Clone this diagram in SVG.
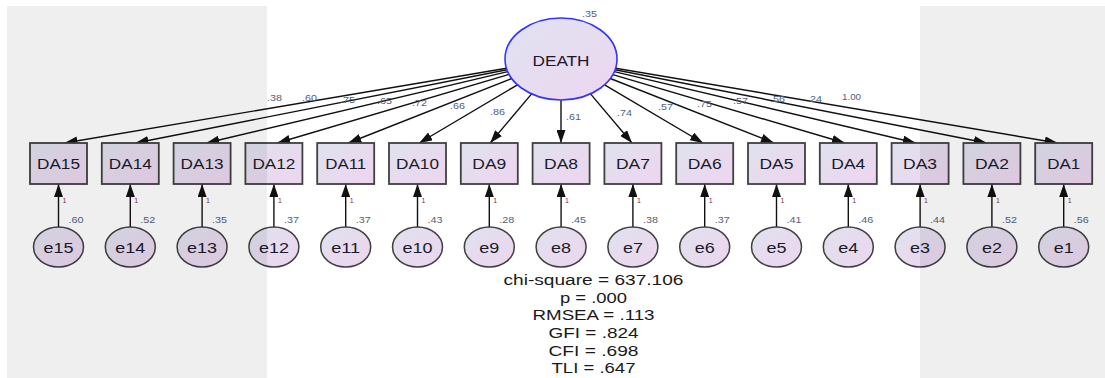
<svg xmlns="http://www.w3.org/2000/svg" width="1105" height="378" viewBox="0 0 1105 378">
  <style>
    .obs { stroke: #404040; stroke-width: 1.8; fill: url(#gBox); }
    .err { stroke: #404040; stroke-width: 1.5; fill: url(#gBox); }
    .lat { stroke: #3434ff; stroke-width: 1.6; fill: url(#gLat); }
    .name { font-family: "Liberation Sans", Arial, sans-serif; font-size: 15px; fill: #1a1a2a; text-anchor: middle; }
    .path { stroke: #111; stroke-width: 1.4; fill: none; marker-end: url(#head); }
    .est { font-family: "Liberation Sans", Arial, sans-serif; font-size: 8.5px; fill: #56607a; }
    .one { font-family: "Liberation Sans", Arial, sans-serif; font-size: 7px; fill: #7a3050; }
    .fit { font-family: "Liberation Sans", Arial, sans-serif; font-size: 14px; fill: #1a1a1a; text-anchor: middle; }
    .shade { fill: #000; fill-opacity: 0.063; }
  </style>
  <defs>
    <linearGradient id="gBox" x1="0" y1="0" x2="1" y2="1">
      <stop offset="0" stop-color="#e0e2ee"/>
      <stop offset="1" stop-color="#edd5ef"/>
    </linearGradient>
    <linearGradient id="gLat" x1="0" y1="0" x2="1" y2="1">
      <stop offset="0" stop-color="#dfe3f0"/>
      <stop offset="1" stop-color="#eed6f0"/>
    </linearGradient>
    <marker id="head" viewBox="0 0 13 9" refX="13" refY="4.5" markerWidth="13" markerHeight="9" markerUnits="userSpaceOnUse" orient="auto">
      <path d="M0,0 L13,4.5 L0,9 z" fill="#111"/>
    </marker>
  </defs>

  <rect width="1105" height="378" fill="#fff"/>

  <!-- paths: factor loadings and error terms -->
  <g id="connectors">
    <line class="path" x1="506.4" y1="68.2" x2="64.5" y2="143"/>
    <line class="path" x1="506.9" y1="69.7" x2="135.5" y2="143"/>
    <line class="path" x1="507.7" y1="71.6" x2="206.4" y2="143"/>
    <line class="path" x1="509.1" y1="74.4" x2="277.3" y2="143"/>
    <line class="path" x1="511.7" y1="78.5" x2="348.3" y2="143"/>
    <line class="path" x1="517.5" y1="84.8" x2="419.2" y2="143"/>
    <line class="path" x1="531.6" y1="93.9" x2="490.2" y2="143"/>
    <line class="path" x1="561" y1="100" x2="561" y2="143"/>
    <line class="path" x1="590.5" y1="93.9" x2="632" y2="143"/>
    <line class="path" x1="604.6" y1="84.8" x2="703" y2="143"/>
    <line class="path" x1="610.3" y1="78.5" x2="773.9" y2="143"/>
    <line class="path" x1="612" y1="74.4" x2="844.9" y2="143"/>
    <line class="path" x1="614.3" y1="71.6" x2="915.8" y2="143"/>
    <line class="path" x1="615.1" y1="69.7" x2="986.7" y2="143"/>
    <line class="path" x1="615.6" y1="68.2" x2="1057.7" y2="143"/>

    <line class="path" x1="58.5" y1="227" x2="58.5" y2="184"/>
    <line class="path" x1="130.3" y1="227" x2="130.3" y2="184"/>
    <line class="path" x1="202.1" y1="227" x2="202.1" y2="184"/>
    <line class="path" x1="273.9" y1="227" x2="273.9" y2="184"/>
    <line class="path" x1="345.7" y1="227" x2="345.7" y2="184"/>
    <line class="path" x1="417.5" y1="227" x2="417.5" y2="184"/>
    <line class="path" x1="489.3" y1="227" x2="489.3" y2="184"/>
    <line class="path" x1="561.1" y1="227" x2="561.1" y2="184"/>
    <line class="path" x1="632.9" y1="227" x2="632.9" y2="184"/>
    <line class="path" x1="704.7" y1="227" x2="704.7" y2="184"/>
    <line class="path" x1="776.5" y1="227" x2="776.5" y2="184"/>
    <line class="path" x1="848.3" y1="227" x2="848.3" y2="184"/>
    <line class="path" x1="920.1" y1="227" x2="920.1" y2="184"/>
    <line class="path" x1="991.9" y1="227" x2="991.9" y2="184"/>
    <line class="path" x1="1063.7" y1="227" x2="1063.7" y2="184"/>

    <!-- standardized loadings -->
    <g class="est">
      <text x="267" y="100.5" textLength="15" lengthAdjust="spacingAndGlyphs">.38</text>
      <text x="302" y="101" textLength="15" lengthAdjust="spacingAndGlyphs">.60</text>
      <text x="340" y="103" textLength="15" lengthAdjust="spacingAndGlyphs">.75</text>
      <text x="377" y="104" textLength="15" lengthAdjust="spacingAndGlyphs">.65</text>
      <text x="412" y="106" textLength="15" lengthAdjust="spacingAndGlyphs">.72</text>
      <text x="450" y="109" textLength="15" lengthAdjust="spacingAndGlyphs">.66</text>
      <text x="490" y="115" textLength="15" lengthAdjust="spacingAndGlyphs">.86</text>
      <text x="566" y="120" textLength="15" lengthAdjust="spacingAndGlyphs">.61</text>
      <text x="617" y="115.5" textLength="15" lengthAdjust="spacingAndGlyphs">.74</text>
      <text x="658" y="109.5" textLength="15" lengthAdjust="spacingAndGlyphs">.57</text>
      <text x="697" y="107" textLength="15" lengthAdjust="spacingAndGlyphs">.75</text>
      <text x="733" y="103.5" textLength="15" lengthAdjust="spacingAndGlyphs">.57</text>
      <text x="770" y="102" textLength="15" lengthAdjust="spacingAndGlyphs">.56</text>
      <text x="807" y="102" textLength="15" lengthAdjust="spacingAndGlyphs">.24</text>
      <text x="842" y="100" textLength="19" lengthAdjust="spacingAndGlyphs">1.00</text>
    </g>

    <!-- fixed error paths -->
    <g class="one">
      <text x="62.5" y="203">1</text>
      <text x="134.3" y="203">1</text>
      <text x="206.1" y="203">1</text>
      <text x="277.9" y="203">1</text>
      <text x="349.7" y="203">1</text>
      <text x="421.5" y="203">1</text>
      <text x="493.3" y="203">1</text>
      <text x="565.1" y="203">1</text>
      <text x="636.9" y="203">1</text>
      <text x="708.7" y="203">1</text>
      <text x="780.5" y="203">1</text>
      <text x="852.3" y="203">1</text>
      <text x="924.1" y="203">1</text>
      <text x="995.9" y="203">1</text>
      <text x="1067.7" y="203">1</text>
    </g>
  </g>

  <!-- latent factor -->
  <g id="DEATH">
    <ellipse class="lat" cx="561" cy="59" rx="56" ry="41"/>
    <text class="name" x="561" y="66" textLength="57" lengthAdjust="spacingAndGlyphs">DEATH</text>
    <text class="est" x="582" y="16.5" textLength="15" lengthAdjust="spacingAndGlyphs">.35</text>
  </g>

  <!-- observed indicators -->
  <g id="DA15"><rect class="obs" x="30" y="143" width="57" height="41"/><text class="name" x="58.5" y="169" textLength="43" lengthAdjust="spacingAndGlyphs">DA15</text></g>
  <g id="DA14"><rect class="obs" x="101.8" y="143" width="57" height="41"/><text class="name" x="130.3" y="169" textLength="43" lengthAdjust="spacingAndGlyphs">DA14</text></g>
  <g id="DA13"><rect class="obs" x="173.6" y="143" width="57" height="41"/><text class="name" x="202.1" y="169" textLength="43" lengthAdjust="spacingAndGlyphs">DA13</text></g>
  <g id="DA12"><rect class="obs" x="245.4" y="143" width="57" height="41"/><text class="name" x="273.9" y="169" textLength="43" lengthAdjust="spacingAndGlyphs">DA12</text></g>
  <g id="DA11"><rect class="obs" x="317.2" y="143" width="57" height="41"/><text class="name" x="345.7" y="169" textLength="41" lengthAdjust="spacingAndGlyphs">DA11</text></g>
  <g id="DA10"><rect class="obs" x="389" y="143" width="57" height="41"/><text class="name" x="417.5" y="169" textLength="43" lengthAdjust="spacingAndGlyphs">DA10</text></g>
  <g id="DA9"><rect class="obs" x="460.8" y="143" width="57" height="41"/><text class="name" x="489.3" y="169" textLength="34" lengthAdjust="spacingAndGlyphs">DA9</text></g>
  <g id="DA8"><rect class="obs" x="532.6" y="143" width="57" height="41"/><text class="name" x="561.1" y="169" textLength="34" lengthAdjust="spacingAndGlyphs">DA8</text></g>
  <g id="DA7"><rect class="obs" x="604.4" y="143" width="57" height="41"/><text class="name" x="632.9" y="169" textLength="34" lengthAdjust="spacingAndGlyphs">DA7</text></g>
  <g id="DA6"><rect class="obs" x="676.2" y="143" width="57" height="41"/><text class="name" x="704.7" y="169" textLength="34" lengthAdjust="spacingAndGlyphs">DA6</text></g>
  <g id="DA5"><rect class="obs" x="748" y="143" width="57" height="41"/><text class="name" x="776.5" y="169" textLength="34" lengthAdjust="spacingAndGlyphs">DA5</text></g>
  <g id="DA4"><rect class="obs" x="819.8" y="143" width="57" height="41"/><text class="name" x="848.3" y="169" textLength="34" lengthAdjust="spacingAndGlyphs">DA4</text></g>
  <g id="DA3"><rect class="obs" x="891.6" y="143" width="57" height="41"/><text class="name" x="920.1" y="169" textLength="34" lengthAdjust="spacingAndGlyphs">DA3</text></g>
  <g id="DA2"><rect class="obs" x="963.4" y="143" width="57" height="41"/><text class="name" x="991.9" y="169" textLength="34" lengthAdjust="spacingAndGlyphs">DA2</text></g>
  <g id="DA1"><rect class="obs" x="1035.2" y="143" width="57" height="41"/><text class="name" x="1063.7" y="169" textLength="33" lengthAdjust="spacingAndGlyphs">DA1</text></g>

  <!-- error terms with variances -->
  <g id="e15"><ellipse class="err" cx="58.5" cy="247" rx="25" ry="20"/><text class="name" x="58.5" y="253" textLength="30" lengthAdjust="spacingAndGlyphs">e15</text><text class="est" x="68.5" y="223" textLength="15" lengthAdjust="spacingAndGlyphs">.60</text></g>
  <g id="e14"><ellipse class="err" cx="130.3" cy="247" rx="25" ry="20"/><text class="name" x="130.3" y="253" textLength="30" lengthAdjust="spacingAndGlyphs">e14</text><text class="est" x="140.3" y="223" textLength="15" lengthAdjust="spacingAndGlyphs">.52</text></g>
  <g id="e13"><ellipse class="err" cx="202.1" cy="247" rx="25" ry="20"/><text class="name" x="202.1" y="253" textLength="30" lengthAdjust="spacingAndGlyphs">e13</text><text class="est" x="212.1" y="223" textLength="15" lengthAdjust="spacingAndGlyphs">.35</text></g>
  <g id="e12"><ellipse class="err" cx="273.9" cy="247" rx="25" ry="20"/><text class="name" x="273.9" y="253" textLength="30" lengthAdjust="spacingAndGlyphs">e12</text><text class="est" x="283.9" y="223" textLength="15" lengthAdjust="spacingAndGlyphs">.37</text></g>
  <g id="e11"><ellipse class="err" cx="345.7" cy="247" rx="25" ry="20"/><text class="name" x="345.7" y="253" textLength="29" lengthAdjust="spacingAndGlyphs">e11</text><text class="est" x="355.7" y="223" textLength="15" lengthAdjust="spacingAndGlyphs">.37</text></g>
  <g id="e10"><ellipse class="err" cx="417.5" cy="247" rx="25" ry="20"/><text class="name" x="417.5" y="253" textLength="30" lengthAdjust="spacingAndGlyphs">e10</text><text class="est" x="427.5" y="223" textLength="15" lengthAdjust="spacingAndGlyphs">.43</text></g>
  <g id="e9"><ellipse class="err" cx="489.3" cy="247" rx="25" ry="20"/><text class="name" x="489.3" y="253" textLength="20" lengthAdjust="spacingAndGlyphs">e9</text><text class="est" x="499.3" y="223" textLength="15" lengthAdjust="spacingAndGlyphs">.28</text></g>
  <g id="e8"><ellipse class="err" cx="561.1" cy="247" rx="25" ry="20"/><text class="name" x="561.1" y="253" textLength="20" lengthAdjust="spacingAndGlyphs">e8</text><text class="est" x="571.1" y="223" textLength="15" lengthAdjust="spacingAndGlyphs">.45</text></g>
  <g id="e7"><ellipse class="err" cx="632.9" cy="247" rx="25" ry="20"/><text class="name" x="632.9" y="253" textLength="20" lengthAdjust="spacingAndGlyphs">e7</text><text class="est" x="642.9" y="223" textLength="15" lengthAdjust="spacingAndGlyphs">.38</text></g>
  <g id="e6"><ellipse class="err" cx="704.7" cy="247" rx="25" ry="20"/><text class="name" x="704.7" y="253" textLength="20" lengthAdjust="spacingAndGlyphs">e6</text><text class="est" x="714.7" y="223" textLength="15" lengthAdjust="spacingAndGlyphs">.37</text></g>
  <g id="e5"><ellipse class="err" cx="776.5" cy="247" rx="25" ry="20"/><text class="name" x="776.5" y="253" textLength="20" lengthAdjust="spacingAndGlyphs">e5</text><text class="est" x="786.5" y="223" textLength="15" lengthAdjust="spacingAndGlyphs">.41</text></g>
  <g id="e4"><ellipse class="err" cx="848.3" cy="247" rx="25" ry="20"/><text class="name" x="848.3" y="253" textLength="20" lengthAdjust="spacingAndGlyphs">e4</text><text class="est" x="858.3" y="223" textLength="15" lengthAdjust="spacingAndGlyphs">.46</text></g>
  <g id="e3"><ellipse class="err" cx="920.1" cy="247" rx="25" ry="20"/><text class="name" x="920.1" y="253" textLength="20" lengthAdjust="spacingAndGlyphs">e3</text><text class="est" x="930.1" y="223" textLength="15" lengthAdjust="spacingAndGlyphs">.44</text></g>
  <g id="e2"><ellipse class="err" cx="991.9" cy="247" rx="25" ry="20"/><text class="name" x="991.9" y="253" textLength="20" lengthAdjust="spacingAndGlyphs">e2</text><text class="est" x="1001.9" y="223" textLength="15" lengthAdjust="spacingAndGlyphs">.52</text></g>
  <g id="e1"><ellipse class="err" cx="1063.7" cy="247" rx="25" ry="20"/><text class="name" x="1063.7" y="253" textLength="20" lengthAdjust="spacingAndGlyphs">e1</text><text class="est" x="1073.7" y="223" textLength="15" lengthAdjust="spacingAndGlyphs">.56</text></g>

  <!-- model fit summary -->
  <g id="fit" class="fit">
    <text x="593.5" y="285" textLength="180" lengthAdjust="spacingAndGlyphs">chi-square = 637.106</text>
    <text x="593.5" y="302.5" textLength="67" lengthAdjust="spacingAndGlyphs">p = .000</text>
    <text x="593.5" y="320" textLength="122" lengthAdjust="spacingAndGlyphs">RMSEA = .113</text>
    <text x="593.5" y="338" textLength="90" lengthAdjust="spacingAndGlyphs">GFI = .824</text>
    <text x="593.5" y="355.5" textLength="90" lengthAdjust="spacingAndGlyphs">CFI = .698</text>
    <text x="593.5" y="373" textLength="84" lengthAdjust="spacingAndGlyphs">TLI = .647</text>
  </g>

  <!-- shaded side panels -->
  <rect class="shade" x="7" y="6" width="260" height="372"/>
  <rect class="shade" x="920" y="6" width="185" height="372"/>
</svg>
